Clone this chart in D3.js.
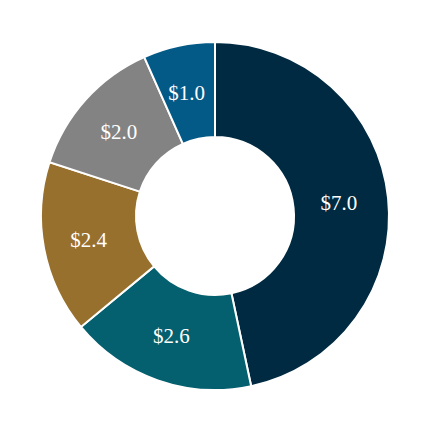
<!DOCTYPE html>
<html>
<head>
<meta charset="utf-8">
<script src="https://cdn.jsdelivr.net/npm/d3@7"></script>
<style>
  html, body { margin: 0; padding: 0; background: #fff; }
</style>
</head>
<body>
<div id="chart"></div>
<script>
var labels = ["A", "B", "C", "D", "E"];
var values = [7.0, 2.6, 2.4, 2.0, 1.0];
var colors = ["#002a41", "#045f6e", "#98702d", "#838383", "#035a87"];

var width = 430, height = 430;
var cx = 215, cy = 216;
var outerR = 174, innerR = 79;

var svg = d3.select("#chart")
    .append("svg")
    .attr("width", width)
    .attr("height", height);

var pie = d3.pie()
    .sort(null)
    .value(function(d) { return d; });

var arc = d3.arc()
    .innerRadius(innerR)
    .outerRadius(outerR);

var color = d3.scaleOrdinal().domain(labels).range(colors);

var g = svg.append("g")
    .attr("transform", "translate(" + cx + "," + cy + ")");

var slices = g.selectAll(".slice")
    .data(pie(values))
    .enter().append("g")
    .attr("class", "slice");

slices.append("path")
    .attr("d", arc)
    .style("fill", function(d, i) { return color(labels[i]); })
    .style("stroke", "#fff")
    .style("stroke-width", 2);

// labels sit at the centroid of each slice
slices.append("text")
    .attr("transform", function(d) {
        var c = arc.centroid(d);
        return "translate(" + (c[0] - 2) + "," + c[1] + ")";
    })
    .attr("dy", ".35em")
    .style("text-anchor", "middle")
    .style("font-family", "'Liberation Serif', 'DejaVu Serif', serif")
    .style("font-size", "21px")
    .style("fill", "#fff")
    .text(function(d) { return "$" + d.data.toFixed(1); });
</script>
</body>
</html>
